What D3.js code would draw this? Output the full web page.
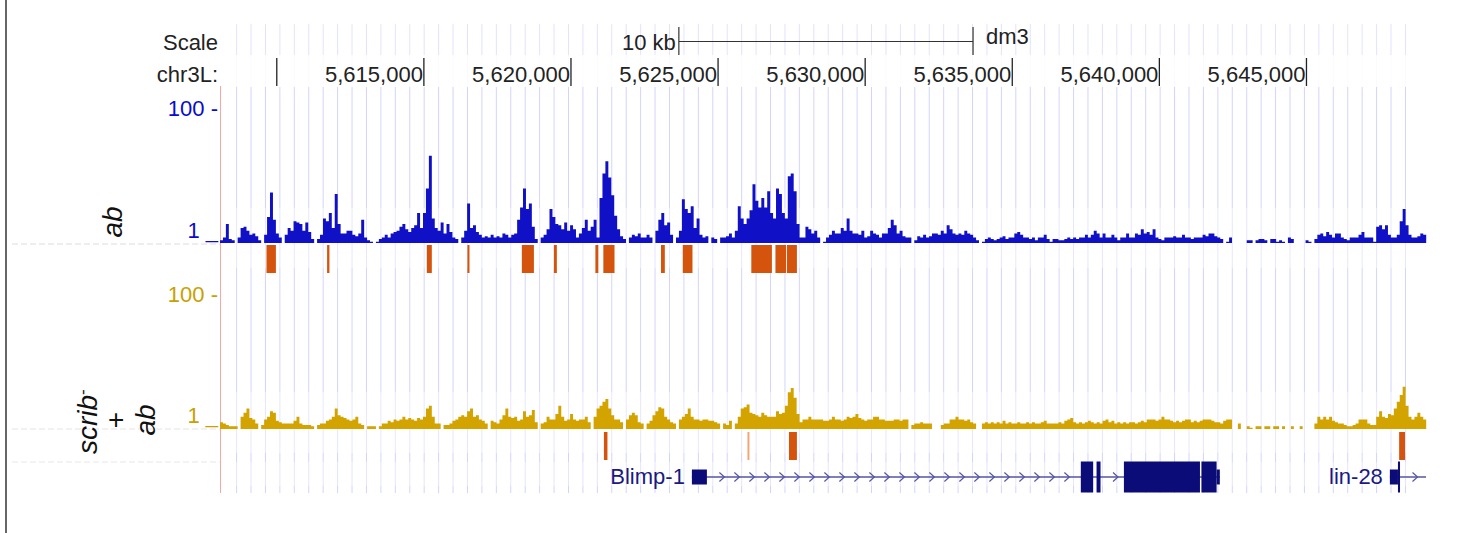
<!DOCTYPE html>
<html><head><meta charset="utf-8">
<script src="https://cdn.jsdelivr.net/npm/d3@7"></script>
<style>
body{margin:0;background:#fff;}
svg{display:block;font-family:"Liberation Sans",Arial,Helvetica,sans-serif;}
</style>
</head><body>
<svg id="chart" width="1477" height="533"></svg>
<script>
// ---------------- DATA ----------------
const chrom = "chr3L:";
const assembly = "dm3";
const viewStart = 5608070;
const viewEnd = 5649070;
const binSize = 100;
const tickPositions = [5610000, 5615000, 5620000, 5625000, 5630000, 5635000, 5640000, 5645000];
const tickLabels = ["", "5,615,000", "5,620,000", "5,625,000", "5,630,000", "5,635,000", "5,640,000", "5,645,000"];
const scaleBar = [5623667, 5633667];
const scaleBarLabel = "10 kb";
const trackLabels = ["ab", "scrib", "+", "ab"];
const yTickLabels = ["100 -", "1 _"];
const yTickValues = [100, 1];

// signal per 100 bp bin (null = no data)
const abSignal = [
3,5,15,4,3,null,5,12,13,10, 7,8,6,3,null,7,20,38,18,8,
5,null,7,12,10,17,16,15,10,16, 9,4,null,4,7,19,17,23,12,37,
15,8,8,10,10,7,6,8,18,5, 3,2,null,2,4,5,7,5,8,9,
10,13,15,11,9,12,14,23,12,23, 41,65,19,12,10,16,8,15,9,5,
4,null,5,10,30,12,14,9,7,5, 6,5,7,5,6,5,8,7,5,7,
8,18,27,41,26,30,13,4,null,5, 7,11,26,20,15,14,11,16,10,14,
11,5,8,12,18,10,13,18,5,34, 52,61,49,36,21,11,6,4,null,5,
7,6,8,5,5,7,5,null,10,18, 23,14,16,7,null,5,10,33,26,23,
28,12,19,7,5,6,null,5,4,null, 5,5,6,8,5,10,28,19,15,19,
25,44,32,27,34,27,39,23,19,41, 37,23,19,50,52,39,15,5,5,13,
11,8,10,5,null,2,5,7,10,8, 8,12,10,19,10,8,8,7,10,5,
6,10,8,7,5,8,8,12,18,14, 8,10,6,5,5,null,3,6,5,7,
5,6,8,8,7,10,8,14,11,8, 7,8,7,10,8,7,5,3,null,2,
4,5,4,3,4,5,6,4,5,5, 8,9,7,5,5,4,5,3,5,5,
7,4,2,4,4,3,3,4,5,4, 5,4,5,5,7,5,7,10,8,5,
8,5,5,7,5,3,5,5,8,5, 5,8,7,11,8,9,7,11,5,4,
3,5,5,5,6,5,5,7,5,5, 4,5,5,5,7,6,8,8,6,5,
4,null,2,5,null,null,null,null,null,3, 3,null,3,4,4,3,null,4,4,2,
3,2,null,5,4,null,null,null,null,3, 2,null,4,7,8,6,9,7,5,8,
8,5,4,3,5,5,5,7,9,5, 5,5,2,13,14,11,14,7,5,5,
7,17,26,14,7,5,5,6,8,7
];
const scribSignal = [
6,5,4,3,3,3,null,10,13,16, 9,8,5,null,4,8,10,14,13,7,
6,5,5,5,5,7,10,5,4,4, 4,3,null,4,5,5,7,8,10,16,
11,10,9,8,7,8,10,5,4,null, 3,3,3,null,3,5,5,7,6,8,
7,8,10,8,9,8,7,9,8,10, 16,18,10,5,5,null,4,4,5,7,
8,10,11,10,14,16,10,11,8,7, 5,null,7,6,5,8,11,16,10,9,
10,7,8,14,10,11,15,6,null,5, 6,10,8,8,12,18,10,7,8,12,
8,7,8,8,10,6,null,10,16,18, 21,23,16,11,8,8,6,null,8,11,
13,11,6,5,null,5,7,11,14,17, 16,10,8,6,5,null,8,10,12,16,
10,8,8,7,8,8,7,7,6,5, null,5,4,7,null,5,10,16,17,19,
13,12,11,10,13,11,10,10,10,14, 12,13,18,28,31,24,12,6,8,8,
10,8,8,8,8,7,7,8,10,8, 8,7,8,10,9,10,12,9,8,7,
8,8,10,10,8,8,7,7,7,8, 8,7,8,8,null,4,5,5,6,5,
5,5,null,null,null,4,5,5,8,8, 10,8,8,7,8,6,5,null,null,5,
6,5,6,5,6,5,7,5,6,5, 5,6,5,5,6,5,6,5,5,6,
7,5,5,5,5,6,5,7,8,9, 6,5,6,5,6,7,6,5,6,5,
7,8,6,7,5,6,5,6,5,6, 6,5,6,7,6,8,8,8,7,8,
10,8,8,7,6,7,6,7,8,8, 6,7,6,7,8,8,8,7,6,6,
5,7,8,8,null,null,5,null,null,3, 2,null,3,3,null,3,3,null,3,3,
null,3,null,null,3,null,null,3,null,null, null,null,5,10,8,10,8,10,7,6,
5,5,4,3,3,4,5,8,8,8, 5,4,4,10,14,10,9,12,11,16,
21,26,32,18,10,8,10,13,10,8
];

// called peaks [start, end]
const abPeaks = [
[5609650,5609970],[5611710,5611790],[5615100,5615270],[5616480,5616550],
[5618330,5618740],[5619420,5619520],[5620830,5620930],[5621100,5621480],
[5623060,5623190],[5623800,5624130],[5626130,5626830],[5626950,5627310],
[5627340,5627680]
];
const scribPeaks = [[5621120,5621240],[5627410,5627680],[5648150,5648350]];
const scribWeakPeaks = [[5626000,5626065]];

// genes
const geneNames = ["Blimp-1", "lin-28"];
const blimpSpan = [5624110, 5642055];
const blimpUTR = [[5624110,5624620],[5641945,5642055]];
const blimpCDS = [[5637330,5637750],[5637865,5638000],[5638795,5641380],[5641430,5641945]];
const linSpan = [5647835, 5649070];
const linUTR = [[5647835,5648110]];
const linCDS = [[5648110,5648180]];

// guideline spacing (bp)
const guideStart = 5608634;
const guideStep = 490.5;

// ---------------- DRAW ----------------
const svg = d3.select("#chart");
const x = d3.scaleLinear().domain([viewStart, viewEnd]).range([220, 1426.2]);
const y1 = d3.scaleLinear().domain([1, 100]).range([243, 108]);
const y2 = d3.scaleLinear().domain([1, 100]).range([429, 294]);

// left border
svg.append("line").attr("x1",6).attr("x2",6).attr("y1",0).attr("y2",533)
  .attr("stroke","#333").attr("stroke-width",1.5);

// guidelines
const guides = d3.range(guideStart, viewEnd - 300, guideStep);
svg.append("g").selectAll("line").data(guides).join("line")
  .attr("x1", d => x(d)).attr("x2", d => x(d))
  .attr("y1", 24).attr("y2", 493)
  .attr("stroke", "#d4d4fb").attr("stroke-width", 1);

// faded bands (image artefacts)
const bands = [[24,55,0.35],[55,87,0.9],[208,268,0.45],[392,453,0.45],[462,486,0.4]];
svg.append("g").selectAll("rect").data(bands).join("rect")
  .attr("x", 214).attr("width", 1216).attr("y", d => d[0]).attr("height", d => d[1]-d[0])
  .attr("fill", "#fff").attr("opacity", d => d[2]);

// faint grey smears left of tracks
[[244,"#eeeeee"],[429,"#f1f1f1"],[462,"#f3f3f3"]].forEach(([yy,c]) => {
  svg.append("line").attr("x1",12).attr("x2",220).attr("y1",yy).attr("y2",yy)
    .attr("stroke",c).attr("stroke-width",2).attr("stroke-dasharray","6,3");
});

// red left edge
svg.append("line").attr("x1",220.5).attr("x2",220.5).attr("y1",86).attr("y2",493)
  .attr("stroke","#f6a8a8").attr("stroke-width",1);

const fs = 22;
// Scale row
svg.append("text").attr("x",218).attr("y",50).attr("text-anchor","end")
  .attr("font-size",fs).attr("fill","#222").text("Scale");
svg.append("text").attr("x",x(scaleBar[0])-3).attr("y",50).attr("text-anchor","end")
  .attr("font-size",fs).attr("fill","#222").text(scaleBarLabel);
svg.append("line").attr("x1",x(scaleBar[0])).attr("x2",x(scaleBar[1])).attr("y1",41.5).attr("y2",41.5)
  .attr("stroke","#333").attr("stroke-width",1);
scaleBar.forEach(p => svg.append("line").attr("x1",x(p)).attr("x2",x(p)).attr("y1",27).attr("y2",55)
  .attr("stroke","#333").attr("stroke-width",1.2));
svg.append("text").attr("x",x(scaleBar[1])+13).attr("y",43.5)
  .attr("font-size",fs).attr("fill","#222").text(assembly);

// chromosome ruler
svg.append("text").attr("x",218).attr("y",81.5).attr("text-anchor","end")
  .attr("font-size",fs).attr("fill","#222").text(chrom);
const tg = svg.append("g");
tickPositions.forEach((p,i) => {
  tg.append("line").attr("x1",x(p)).attr("x2",x(p)).attr("y1",58).attr("y2",86)
    .attr("stroke","#222").attr("stroke-width",1.3);
  if (tickLabels[i]) tg.append("text").attr("x",x(p)-1).attr("y",81.5).attr("text-anchor","end")
    .attr("font-size",fs).attr("fill","#222").text(tickLabels[i]);
});

// signal tracks (bar-graph style: each bin spans its 100 bp)
function binsToPoints(arr){
  const pts = [];
  arr.forEach((v,i) => {
    const s = viewStart + i*binSize;
    pts.push({p:s, v:v}, {p:s+binSize, v:v});
  });
  return pts;
}
function drawSignal(arr, yS, color){
  const area = d3.area().defined(d => d.v != null)
    .x(d => x(d.p)).y0(yS(1)).y1(d => yS(d.v));
  svg.append("path").datum(binsToPoints(arr)).attr("d", area).attr("fill", color);
}
drawSignal(abSignal, y1, "#1010c6");
drawSignal(scribSignal, y2, "#d3a300");

// y labels
function yLabels(yS, color, baseOffsets){
  yTickValues.forEach((v,i) => {
    svg.append("text").attr("x",218).attr("y", yS(v) + baseOffsets[i]).attr("text-anchor","end")
      .attr("font-size",fs).attr("fill",color).text(yTickLabels[i]);
  });
}
yLabels(y1, "#0a0ad0", [7.5, -5]);
yLabels(y2, "#c9a000", [7.5, -6]);

// peak bars
function drawPeaks(peaks, top, bottom, color){
  svg.append("g").selectAll("rect").data(peaks).join("rect")
    .attr("x", d => x(d[0])).attr("width", d => Math.max(1.2, x(d[1]) - x(d[0])))
    .attr("y", top).attr("height", bottom - top).attr("fill", color);
}
drawPeaks(abPeaks, 245, 273, "#d4540e");
drawPeaks(scribPeaks, 432, 460, "#d4540e");
drawPeaks(scribWeakPeaks, 432, 460, "#f2a474");

// genes
const geneY = 477;
const exonColor = "#0c0c78";
const lineColor = "#5454a6";
function drawGene(span, utr, cds, name){
  const g = svg.append("g");
  g.append("line").attr("x1", x(span[0])).attr("x2", Math.min(x(span[1]), 1426))
    .attr("y1", geneY).attr("y2", geneY).attr("stroke", lineColor).attr("stroke-width", 1.3);
  const blocks = utr.concat(cds).map(b => [x(b[0]), x(b[1])]).sort((a,b)=>a[0]-b[0]);
  const segs = [];
  for (let i=0;i<blocks.length;i++){
    const end = blocks[i][1];
    const next = i+1<blocks.length ? blocks[i+1][0] : Math.min(x(span[1]),1426);
    if (next > end) segs.push([end, next]);
  }
  segs.forEach(([a,b]) => {
    for (let cx = a + 15; cx < b - 4; cx += 15) {
      g.append("path").attr("d", `M${cx-2.5},${geneY-4.5}L${cx+2.5},${geneY}L${cx-2.5},${geneY+4.5}`)
        .attr("fill","none").attr("stroke", lineColor).attr("stroke-width", 1.2);
    }
  });
  g.selectAll("rect.utr").data(utr).join("rect").attr("class","utr")
    .attr("x", d => x(d[0])).attr("width", d => x(d[1]) - x(d[0]))
    .attr("y", geneY - 7.5).attr("height", 15).attr("fill", exonColor);
  g.selectAll("rect.cds").data(cds).join("rect").attr("class","cds")
    .attr("x", d => x(d[0])).attr("width", d => Math.max(1.5, x(d[1]) - x(d[0])))
    .attr("y", geneY - 15.5).attr("height", 31).attr("fill", exonColor);
  g.append("text").attr("x", x(span[0]) - 7).attr("y", 484).attr("text-anchor","end")
    .attr("font-size", fs).attr("fill", "#1a1a82").text(name);
}
drawGene(blimpSpan, blimpUTR, blimpCDS, geneNames[0]);
drawGene(linSpan, linUTR, linCDS, geneNames[1]);

// track labels (rotated)
const lf = 28;
svg.append("text").attr("transform","translate(122,222) rotate(-90)")
  .attr("text-anchor","middle").attr("font-size",lf).attr("font-style","italic")
  .attr("fill","#111").text(trackLabels[0]);
const t2 = svg.append("text").attr("transform","translate(97,454) rotate(-90)")
  .attr("font-size",lf).attr("font-style","italic").attr("fill","#111");
t2.append("tspan").text(trackLabels[1]);
t2.append("tspan").attr("dy",-9).attr("font-size",17).attr("font-style","normal").text("-");
svg.append("text").attr("transform","translate(125,420) rotate(-90)")
  .attr("text-anchor","middle").attr("font-size",lf).attr("fill","#111").text(trackLabels[2]);
svg.append("text").attr("transform","translate(155,420) rotate(-90)")
  .attr("text-anchor","middle").attr("font-size",lf).attr("font-style","italic")
  .attr("fill","#111").text(trackLabels[3]);
</script>
</body></html>
